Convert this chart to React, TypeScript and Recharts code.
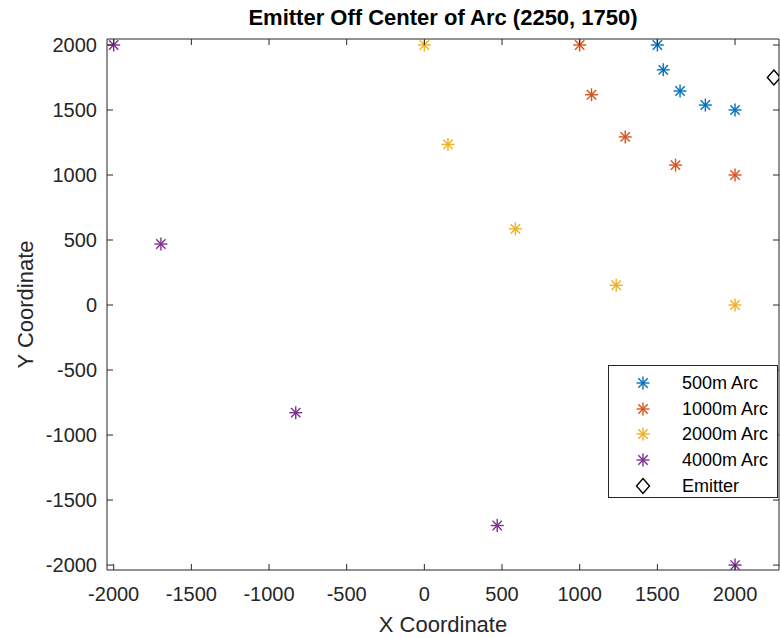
import React from 'react';
import { ScatterChart, Scatter, XAxis, YAxis, Legend, Label } from 'recharts';

// ---- data ----
const xTicks = [-2000, -1500, -1000, -500, 0, 500, 1000, 1500, 2000];
const yTicks = [-2000, -1500, -1000, -500, 0, 500, 1000, 1500, 2000];
const xDomain = [-2043, 2283];
const yDomain = [-2038, 2046];

const arc500 = [[1500, 2000], [1538, 1809], [1646, 1646], [1809, 1538], [2000, 1500]];
const arc1000 = [[1000, 2000], [1076, 1617], [1293, 1293], [1617, 1076], [2000, 1000]];
const arc2000 = [[0, 2000], [152, 1235], [586, 586], [1235, 152], [2000, 0]];
const arc4000 = [[-2000, 2000], [-1696, 469], [-828, -828], [469, -1696], [2000, -2000]];
const emitter = [[2250, 1750]];

const seriesNames = ['500m Arc', '1000m Arc', '2000m Arc', '4000m Arc', 'Emitter'];
const seriesColors = ['#0072BD', '#D95319', '#EDB120', '#7E2F8E', '#000000'];
const seriesMarkers = ['asterisk', 'asterisk', 'asterisk', 'asterisk', 'diamond'];
const seriesData = [arc500, arc1000, arc2000, arc4000, emitter];

const titleText = 'Emitter Off Center of Arc (2250, 1750)';
const xLabelText = 'X Coordinate';
const yLabelText = 'Y Coordinate';

// ---- styles ----
const FONT = '"Liberation Sans", Arial, Helvetica, sans-serif';
const AXIS_COLOR = '#262626';
const TICK_LEN = 6;

const toPoints = (pairs: number[][]) => pairs.map(([x, y]) => ({ x, y }));

function Marker({ kind, cx, cy, color }: { kind: string; cx: number; cy: number; color: string }) {
  if (kind === 'diamond') {
    const w = 6.5;
    const h = 7.5;
    return (
      <polygon
        points={`${cx},${cy - h} ${cx + w},${cy} ${cx},${cy + h} ${cx - w},${cy}`}
        fill="none"
        stroke={color}
        strokeWidth={1.4}
      />
    );
  }
  const r = 6.5;
  const d = r * 0.72;
  return (
    <g stroke={color} strokeWidth={1.4} strokeLinecap="butt">
      <line x1={cx - r} y1={cy} x2={cx + r} y2={cy} />
      <line x1={cx} y1={cy - r} x2={cx} y2={cy + r} />
      <line x1={cx - d} y1={cy - d} x2={cx + d} y2={cy + d} />
      <line x1={cx - d} y1={cy + d} x2={cx + d} y2={cy - d} />
    </g>
  );
}

const BottomTick = (props: any) => {
  const { x, y, payload } = props;
  return (
    <g>
      <line x1={x} y1={y} x2={x} y2={y - TICK_LEN} stroke={AXIS_COLOR} strokeWidth={1} />
      <text x={x} y={y + 31} textAnchor="middle" fontSize={20} fill={AXIS_COLOR} fontFamily={FONT}>
        {payload.value}
      </text>
    </g>
  );
};

const TopTick = (props: any) => {
  const { x, y } = props;
  return <line x1={x} y1={y} x2={x} y2={y + TICK_LEN} stroke={AXIS_COLOR} strokeWidth={1} />;
};

const LeftTick = (props: any) => {
  const { x, y, payload } = props;
  const ax = x + 10;
  return (
    <g>
      <line x1={ax} y1={y} x2={ax + TICK_LEN} y2={y} stroke={AXIS_COLOR} strokeWidth={1} />
      <text x={x} y={y + 7} textAnchor="end" fontSize={20} fill={AXIS_COLOR} fontFamily={FONT}>
        {payload.value}
      </text>
    </g>
  );
};

const RightTick = (props: any) => {
  const { x, y } = props;
  return <line x1={x} y1={y} x2={x - TICK_LEN} y2={y} stroke={AXIS_COLOR} strokeWidth={1} />;
};

const LegendBox = () => (
  <div
    style={{
      width: 170,
      height: 133,
      boxSizing: 'border-box',
      border: '1px solid #262626',
      background: '#fff',
      paddingTop: 4,
      fontFamily: FONT,
    }}
  >
    {seriesNames.map((name, i) => (
      <div key={name} style={{ display: 'flex', alignItems: 'center', height: 25.75 }}>
        <svg width={73} height={26} style={{ display: 'block', flex: 'none' }}>
          <Marker kind={seriesMarkers[i]} cx={34} cy={13} color={seriesColors[i]} />
        </svg>
        <span style={{ fontSize: 18, color: '#000', lineHeight: '26px', whiteSpace: 'nowrap' }}>{name}</span>
      </div>
    ))}
  </div>
);

export default function App() {
  return (
    <div style={{ position: 'absolute', left: 0, top: 0, background: '#fff' }}>
      <ScatterChart width={780} height={638} margin={{ top: 38, right: 0, bottom: 0, left: 0 }}>
        <XAxis
          xAxisId="bottom"
          dataKey="x"
          type="number"
          orientation="bottom"
          domain={xDomain}
          ticks={xTicks}
          interval={0}
          allowDataOverflow
          height={68}
          tickSize={0}
          tickMargin={0}
          tick={<BottomTick />}
          axisLine={{ stroke: AXIS_COLOR, strokeWidth: 1 }}
        >
          <Label
            value={xLabelText}
            position="insideBottom"
            offset={6}
            style={{ fontSize: 22, fill: AXIS_COLOR, fontFamily: FONT }}
          />
        </XAxis>
        <XAxis
          xAxisId="top"
          dataKey="x"
          type="number"
          orientation="top"
          domain={xDomain}
          ticks={xTicks}
          interval={0}
          allowDataOverflow
          height={1}
          tickSize={0}
          tickMargin={0}
          tick={<TopTick />}
          axisLine={{ stroke: AXIS_COLOR, strokeWidth: 1 }}
        >
          <Label
            value={titleText}
            position="top"
            offset={13}
            style={{ fontSize: 22, fontWeight: 'bold', fill: '#000', fontFamily: FONT }}
          />
        </XAxis>
        <YAxis
          yAxisId="left"
          dataKey="y"
          type="number"
          orientation="left"
          domain={yDomain}
          ticks={yTicks}
          interval={0}
          allowDataOverflow
          width={107}
          tickSize={0}
          tickMargin={10}
          tick={<LeftTick />}
          axisLine={{ stroke: AXIS_COLOR, strokeWidth: 1 }}
        >
          <Label
            value={yLabelText}
            angle={-90}
            position="insideLeft"
            offset={25}
            style={{ fontSize: 22, fill: AXIS_COLOR, fontFamily: FONT, textAnchor: 'middle' }}
          />
        </YAxis>
        <YAxis
          yAxisId="right"
          dataKey="y"
          type="number"
          orientation="right"
          domain={yDomain}
          ticks={yTicks}
          interval={0}
          allowDataOverflow
          width={1}
          tickSize={0}
          tickMargin={0}
          tick={<RightTick />}
          axisLine={{ stroke: AXIS_COLOR, strokeWidth: 1 }}
        />
        {seriesData.map((pairs, i) => (
          <Scatter
            key={seriesNames[i]}
            name={seriesNames[i]}
            data={toPoints(pairs)}
            xAxisId="bottom"
            yAxisId="left"
            fill={seriesColors[i]}
            isAnimationActive={false}
            shape={(p: any) => <Marker kind={seriesMarkers[i]} cx={p.cx} cy={p.cy} color={seriesColors[i]} />}
          />
        ))}
        <Legend
          layout="vertical"
          align="center"
          verticalAlign="middle"
          content={<LegendBox />}
          wrapperStyle={{ left: 608, top: 365, width: 170, height: 133, margin: 0, padding: 0 }}
        />
      </ScatterChart>
    </div>
  );
}
